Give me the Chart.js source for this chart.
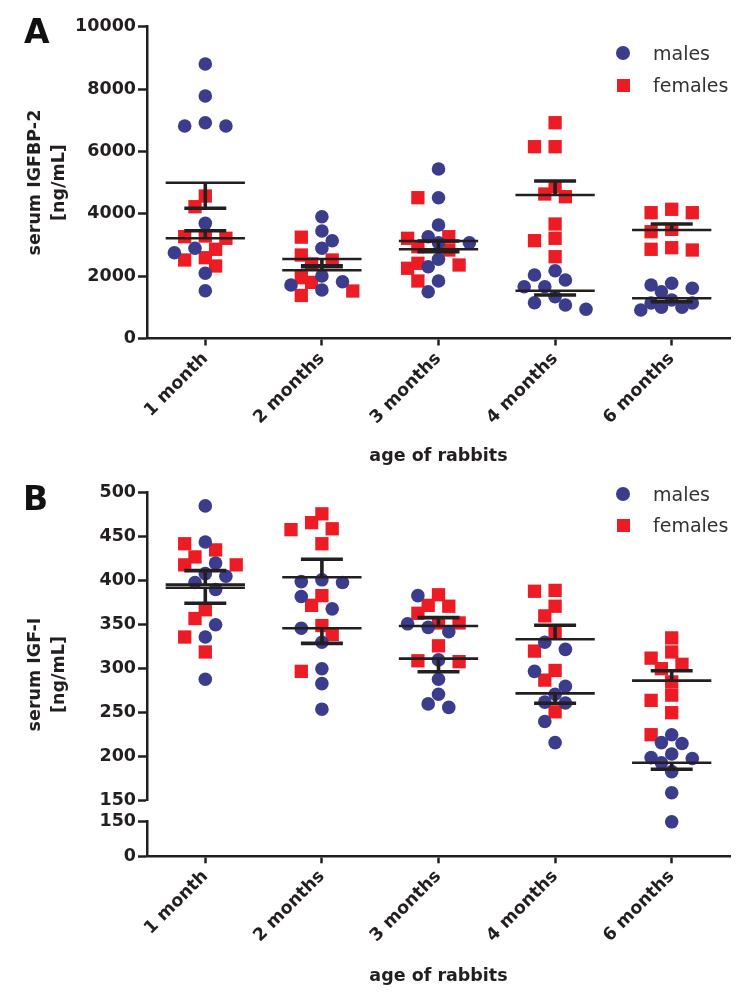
<!DOCTYPE html>
<html><head><meta charset="utf-8">
<script src="https://cdn.jsdelivr.net/npm/chart.js@4.4.1/dist/chart.umd.min.js"></script>
<style>
html,body{margin:0;padding:0;background:#fff;}
#wrap{position:relative;width:748px;height:1004px;overflow:hidden;background:#fff;}
canvas{position:absolute;left:0;}
#cA{top:0;} #cB{top:470px;}
.letter{position:absolute;font-family:"DejaVu Sans",sans-serif;font-weight:bold;font-size:33px;color:#111;line-height:1;}
.leg{position:absolute;left:609px;height:20px;display:flex;align-items:center;font-family:"DejaVu Sans",sans-serif;font-size:19px;color:#333;}
.mk{width:28px;height:20px;position:relative;margin-right:16px;}
.dot{position:absolute;left:7px;top:3px;width:14px;height:14px;border-radius:50%;background:#3c3c8c;}
.sq{position:absolute;left:7.5px;top:3.5px;width:13px;height:13px;background:#ed1c24;}
</style></head>
<body><div id="wrap">
<canvas id="cA" width="748" height="470"></canvas>
<canvas id="cB" width="748" height="534"></canvas>
<div class="letter" style="left:24px;top:15px">A</div>
<div class="letter" style="left:23px;top:482px">B</div>
<div class="leg" style="top:43px"><div class="mk"><div class="dot"></div></div>males</div>
<div class="leg" style="top:75px"><div class="mk"><div class="sq"></div></div>females</div>
<div class="leg" style="top:484px"><div class="mk"><div class="dot"></div></div>males</div>
<div class="leg" style="top:515px"><div class="mk"><div class="sq"></div></div>females</div>
</div>
<script>
// ---------------- data ----------------
const categories = ['1 month', '2 months', '3 months', '4 months', '6 months'];

// Panel A: serum IGFBP-2 [ng/mL], one inner array per age group
const igfbp2Males = [
  [8804, 7777, 6921, 6815, 6815, 3694, 2893, 2752, 2091, 1533],
  [3906, 3448, 3137, 2893, 2004, 1822, 1716, 1556],
  [5436, 4516, 3640, 3265, 3073, 3073, 2540, 2303, 1844, 1501],
  [2175, 2037, 1876, 1661, 1661, 1341, 1148, 1074, 937],
  [1770, 1716, 1610, 1501, 1235, 1138, 1138, 1001, 1001, 914]
];
const igfbp2Females = [
  [4570, 4227, 3287, 3265, 3214, 2861, 2591, 2518, 2325],
  [3250, 2678, 2518, 2390, 1950, 1800, 1523, 1380],
  [4516, 3265, 3214, 2944, 2838, 2412, 2357, 2252, 1844],
  [6921, 6151, 6151, 4868, 4634, 4548, 3672, 3214, 3137, 2623],
  [4144, 4035, 4035, 3501, 3425, 2912, 2861, 2838]
];
const igfbp2MaleMean = [4997, 2550, 3127, 1533, 1289];
const igfbp2MaleSem = [-821, -250, -343, -138, -109];
const igfbp2FemaleMean = [3214, 2190, 2861, 4602, 3480];
const igfbp2FemaleSem = [243, 140, 266, 449, 192];

// Panel B: serum IGF-I [ng/mL]
const igf1Males = [
  [485, 444, 420, 408, 405, 398, 390, 350, 336, 288],
  [401, 399, 398, 382, 368, 346, 330, 300, 283, 254],
  [383, 351, 347, 342, 310, 288, 271, 260, 256],
  [330, 322, 297, 280, 271, 262, 261, 240, 216],
  [225, 216, 215, 203, 199, 198, 193, 183, 159, 126]
];
const igf1Females = [
  [442, 435, 427, 418, 418, 367, 357, 336, 319],
  [476, 466, 459, 458, 442, 383, 372, 349, 339, 297],
  [384, 372, 371, 363, 352, 352, 326, 309, 308],
  [389, 388, 371, 360, 342, 320, 298, 287, 251],
  [335, 319, 312, 305, 300, 285, 270, 264, 250, 225]
];
const igf1MaleMean = [395.5, 345.9, 311.4, 272, 193.2];
const igf1MaleSem = [16, -17.1, -14.8, -11.3, -7.5];
const igf1FemaleMean = [392, 403.9, 348.5, 333.4, 286.4];
const igf1FemaleSem = [-17.7, 20.4, 9.5, 15.9, 11.2];

const igfbp2Ticks = [0, 2000, 4000, 6000, 8000, 10000];
const igf1UpperTicks = [150, 200, 250, 300, 350, 400, 450, 500];
const igf1LowerTicks = [0, 150];

// ---------------- styling ----------------
const FONT = "'DejaVu Sans', sans-serif";
const INK = '#231f20';
const BLUE = '#3c3c8c';
const RED = '#ed1c24';
const tickFont = {family: FONT, size: 17.5, weight: 'bold'};
const titleFont = {family: FONT, size: 17.5, weight: 'bold', lineHeight: 1.4};
const Y_AXIS_W = 75.25;

function pts(groups) {
  return groups.flatMap((vals, g) => vals.map(v => ({x: g, y: v, g: g})));
}
function meanData(means) {
  const d = [];
  means.forEach((m, g) => d.push({x: g - 0.34, y: m}, {x: g + 0.34, y: m}, {x: g, y: null}));
  return d;
}
function semData(means, sems) {
  const d = [];
  means.forEach((m, g) => {
    const e = m + sems[g];
    d.push({x: g - 0.18, y: e}, {x: g + 0.18, y: e}, {x: g, y: null},
           {x: g, y: m}, {x: g, y: e}, {x: g, y: null});
  });
  return d;
}
function buildDatasets(males, females, mM, sM, mF, sF, yId) {
  return [
    {type: 'line', data: meanData(mM).concat(meanData(mF)), borderColor: INK, borderWidth: 2.6,
     pointRadius: 0, spanGaps: false, order: 0, yAxisID: yId, clip: false},
    {type: 'line', data: semData(mM, sM).concat(semData(mF, sF)), borderColor: INK, borderWidth: 3.6,
     pointRadius: 0, spanGaps: false, order: 0, yAxisID: yId, clip: false},
    {label: 'males', data: pts(males), pointStyle: 'circle', pointRadius: 6.8, backgroundColor: BLUE,
     borderColor: BLUE, borderWidth: 0, order: 1, yAxisID: yId, swarm: true, clip: false},
    {label: 'females', data: pts(females), pointStyle: 'rect', pointRadius: 9.4, backgroundColor: RED,
     borderColor: RED, borderWidth: 0, order: 2, yAxisID: yId, swarm: true, clip: false}
  ];
}
function xScale(height, titlePadBottom) {
  return {
    type: 'linear', position: 'bottom', min: -0.5, max: 4.5,
    afterBuildTicks: s => { s.ticks = categories.map((c, i) => ({value: i})); },
    ticks: {callback: v => categories[Math.round(v)], minRotation: 45, maxRotation: 45, autoSkip: false,
            font: tickFont, color: INK, padding: 3},
    grid: {display: true, drawOnChartArea: false, drawTicks: true, tickLength: 7, tickWidth: 2.5, tickColor: INK},
    border: {display: true, color: INK, width: 2.5},
    title: {display: true, text: 'age of rabbits', font: tickFont, color: INK, padding: {top: 0, bottom: titlePadBottom}},
    afterFit: s => { s.height = height; }
  };
}
function yAxisBase(ticks) {
  return {
    type: 'linear', position: 'left',
    afterBuildTicks: s => { s.ticks = ticks.map(v => ({value: v})); },
    ticks: {font: tickFont, color: INK, padding: 2, callback: v => String(v)},
    grid: {display: true, drawOnChartArea: false, drawTicks: true, tickLength: 9, tickWidth: 2.5, tickColor: INK},
    border: {display: true, color: INK, width: 2.5},
    afterFit: s => { s.width = Y_AXIS_W; }
  };
}
function yTitle(lines) {
  return {display: true, position: 'left', fullSize: false, align: 'center', text: lines,
          font: titleFont, color: INK, padding: {top: 22.75, bottom: 0}};
}

// beeswarm-style horizontal spreading (computed from the pixel scales)
function swarm(chart, yId) {
  const xs = chart.scales.x, ys = chart.scales[yId];
  const unit = xs.getPixelForValue(1) - xs.getPixelForValue(0);
  const COL = 10.3, MIN = 12.5;
  const cands = [0, -1, 1, -2, 2, -3, 3];
  const sets = chart.data.datasets.filter(d => d.swarm);
  for (let g = 0; g < categories.length; g++) {
    const list = [];
    sets.forEach(ds => ds.data.forEach(p => { if (p.g === g) list.push(p); }));
    list.sort((a, b) => b.y - a.y);
    const placed = [];
    list.forEach(p => {
      const py = ys.getPixelForValue(p.y);
      let best = null, bestD = -1;
      for (const k of cands) {
        const dx = k * COL;
        const d = placed.reduce((m, q) => Math.min(m, Math.hypot(q.dx - dx, q.py - py)), Infinity);
        if (d >= MIN) { best = dx; break; }
        if (d > bestD + 0.01) { bestD = d; best = dx; }
      }
      placed.push({dx: best, py});
      p.x = g + best / unit;
    });
  }
  chart.update('none');
}

const common = {
  responsive: false, animation: false, devicePixelRatio: 1,
  events: []
};

// ---------------- Panel A ----------------
const chartA = new Chart(document.getElementById('cA'), {
  type: 'scatter',
  data: {datasets: buildDatasets(igfbp2Males, igfbp2Females, igfbp2MaleMean, igfbp2MaleSem,
                                 igfbp2FemaleMean, igfbp2FemaleSem, 'y')},
  options: Object.assign({}, common, {
    layout: {padding: {left: 0, top: 26.7, right: 18, bottom: 0}},
    plugins: {legend: {display: false}, tooltip: {enabled: false},
              title: yTitle(['serum IGFBP-2', '[ng/mL]'])},
    scales: {
      x: xScale(131.5, 3),
      y: Object.assign(yAxisBase(igfbp2Ticks), {min: 0, max: 10000})
    }
  })
});
swarm(chartA, 'y');

// ---------------- Panel B (broken y axis) ----------------
const chartB = new Chart(document.getElementById('cB'), {
  type: 'scatter',
  data: {datasets: buildDatasets(igf1Males, igf1Females, igf1MaleMean, igf1MaleSem,
                                 igf1FemaleMean, igf1FemaleSem, 'yHigh')},
  options: Object.assign({}, common, {
    layout: {padding: {left: 0, top: 22.7, right: 18, bottom: 0}},
    plugins: {legend: {display: false}, tooltip: {enabled: false},
              title: yTitle(['serum IGF-I', '[ng/mL]'])},
    scales: {
      x: xScale(147.7, 17),
      yHigh: Object.assign(yAxisBase(igf1UpperTicks), {min: 150, max: 500, stack: 'y', stackWeight: 308, weight: 3}),
      yGap: {type: 'linear', position: 'left', min: 0, max: 1, stack: 'y', stackWeight: 20.3, weight: 2,
             ticks: {display: false}, grid: {display: false}, border: {display: false},
             afterFit: s => { s.width = Y_AXIS_W; }},
      yLow: Object.assign(yAxisBase(igf1LowerTicks), {min: 0, max: 150, stack: 'y', stackWeight: 35.3, weight: 1})
    }
  })
});
swarm(chartB, 'yHigh');
</script>
</body></html>
